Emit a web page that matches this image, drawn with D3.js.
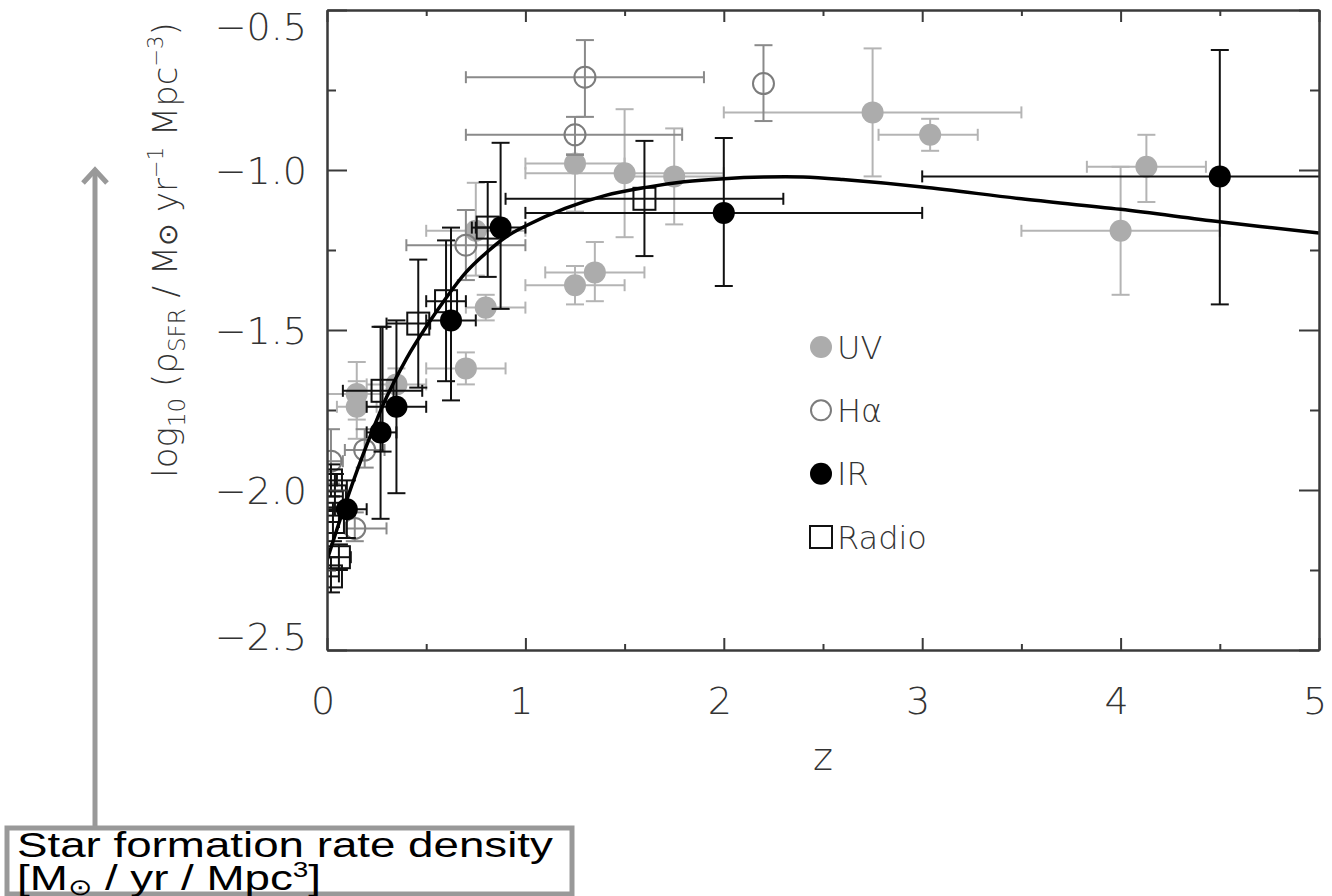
<!DOCTYPE html>
<html>
<head>
<meta charset="utf-8">
<script src="https://cdn.jsdelivr.net/npm/d3@7"></script>
<style>
  body { margin: 0; background: #fff; }
  svg { display: block; }
  .plotText { font-family: "DejaVu Sans", sans-serif; font-weight: 200; fill: #333; }
</style>
</head>
<body>
<div id="chart"></div>
<script>
// each row: [z, value, zMin, zMax, valueTop, valueBottom]
const uvPoints = [
  [0.15, -1.70, 0.00, 0.30, -1.60, -1.78],
  [0.15, -1.74, 0.05, 0.25, -1.66, -1.84],
  [0.35, -1.67, 0.20, 0.50, -1.62, -1.72],
  [0.70, -1.62, 0.50, 0.90, -1.57, -1.67],
  [0.75, -1.19, 0.50, 1.00, -1.04, -1.33],
  [0.80, -1.43, 0.70, 1.00, -1.39, -1.47],
  [1.25, -0.98, 1.00, 1.50, -0.95, -1.13],
  [1.25, -1.36, 1.00, 1.50, -1.30, -1.42],
  [1.35, -1.32, 1.10, 1.60, -1.225, -1.41],
  [1.50, -1.01, 1.00, 2.00, -0.81, -1.21],
  [1.75, -1.02, 1.50, 2.00, -0.87, -1.17],
  [2.75, -0.82, 2.00, 3.50, -0.62, -1.02],
  [3.04, -0.89, 2.78, 3.28, -0.84, -0.94],
  [4.00, -1.19, 3.50, 4.50, -0.99, -1.39],
  [4.13, -0.99, 3.83, 4.43, -0.89, -1.10]
];

const haPoints = [
  [0.02, -1.91, 0.00, 0.08, -1.81, -1.98],
  [0.19, -1.875, 0.09, 0.29, -1.81, -1.93],
  [0.14, -2.12, 0.09, 0.30, -2.07, -2.16],
  [0.70, -1.235, 0.40, 1.00, -1.125, -1.344],
  [1.25, -0.89, 0.70, 1.79, -0.834, -0.953],
  [1.30, -0.71, 0.70, 1.90, -0.594, -0.834],
  [2.20, -0.73, 2.20, 2.20, -0.61, -0.847]
];

const irPoints = [
  [0.10, -2.06, 0.00, 0.20, -1.97, -2.15],
  [0.27, -1.82, 0.20, 0.35, -1.49, -2.09],
  [0.35, -1.74, 0.20, 0.50, -1.47, -2.01],
  [0.625, -1.47, 0.50, 0.75, -1.18, -1.72],
  [0.875, -1.18, 0.75, 1.00, -0.915, -1.434],
  [2.00, -1.134, 1.00, 3.00, -0.90, -1.3625],
  [4.50, -1.02, 3.00, 6.00, -0.625, -1.42]
];

const radioPoints = [
  [0.02, -1.97, 0.00, 0.05, -1.92, -2.02],
  [0.04, -2.02, 0.00, 0.08, -1.95, -2.08],
  [0.03, -2.10, 0.00, 0.06, -2.04, -2.16],
  [0.06, -2.21, 0.00, 0.12, -2.17, -2.25],
  [0.02, -2.27, 0.00, 0.06, -2.21, -2.32],
  [0.28, -1.69, 0.08, 0.48, -1.49, -1.88],
  [0.46, -1.48, 0.30, 0.52, -1.28, -1.68],
  [0.60, -1.41, 0.50, 0.70, -1.22, -1.66],
  [0.81, -1.18, 0.73, 0.87, -1.0375, -1.334],
  [1.60, -1.09, 0.90, 2.30, -0.909, -1.269]
];

// fit curve
const curveZ = [0, 0.1, 0.2, 0.3, 0.4, 0.5, 0.6, 0.7, 0.8, 0.9, 1.0, 1.2, 1.4, 1.6, 1.8, 2.0, 2.2, 2.4, 2.6, 3.0, 3.5, 4.0, 4.5, 5.0];
const curveV = [-2.22, -2.03, -1.86, -1.71, -1.59, -1.49, -1.40, -1.32, -1.26, -1.21, -1.175, -1.12, -1.08, -1.055, -1.037, -1.027, -1.022, -1.022, -1.03, -1.053, -1.09, -1.123, -1.162, -1.197];

const xMajor = [0, 1, 2, 3, 4, 5];
const xMinor = [0.5, 1.5, 2.5, 3.5, 4.5];
const yMajor = [-0.5, -1.0, -1.5, -2.0, -2.5];
const yMinor = [-0.75, -1.25, -1.75, -2.25];

const legendItems = ["UV", "Hα", "IR", "Radio"];

const width = 1332, height = 896;
const plot = { left: 327, right: 1319, top: 10, bottom: 650 };

const svg = d3.select("#chart").append("svg")
  .attr("width", width)
  .attr("height", height);

const x = d3.scaleLinear().domain([0, 5]).range([plot.left, plot.right]);
const y = d3.scaleLinear().domain([-2.5, -0.5]).range([plot.bottom, plot.top]);

// clip for marks
svg.append("clipPath").attr("id", "clip")
  .append("rect")
  .attr("x", plot.left).attr("y", plot.top)
  .attr("width", plot.right - plot.left).attr("height", plot.bottom - plot.top);

const marks = svg.append("g").attr("clip-path", "url(#clip)");

// error bars for one series
function drawErrors(data, color, width) {
  const g = marks.append("g")
    .attr("stroke", color)
    .attr("stroke-width", width)
    .attr("fill", "none");
  data.forEach(d => {
    const cx = x(d[0]), cy = y(d[1]);
    if (d[3] > d[2]) {
      g.append("line").attr("x1", x(d[2])).attr("x2", x(d[3])).attr("y1", cy).attr("y2", cy);
      g.append("line").attr("x1", x(d[2])).attr("x2", x(d[2])).attr("y1", cy - 6).attr("y2", cy + 6);
      g.append("line").attr("x1", x(d[3])).attr("x2", x(d[3])).attr("y1", cy - 6).attr("y2", cy + 6);
    }
    g.append("line").attr("x1", cx).attr("x2", cx).attr("y1", y(d[4])).attr("y2", y(d[5]));
    g.append("line").attr("x1", cx - 9).attr("x2", cx + 9).attr("y1", y(d[4])).attr("y2", y(d[4]));
    g.append("line").attr("x1", cx - 9).attr("x2", cx + 9).attr("y1", y(d[5])).attr("y2", y(d[5]));
  });
}

drawErrors(uvPoints, "#b4b4b4", 2);
marks.append("g").selectAll("circle")
  .data(uvPoints)
  .join("circle")
  .attr("cx", d => x(d[0]))
  .attr("cy", d => y(d[1]))
  .attr("r", 11)
  .attr("fill", "#acacac");

drawErrors(haPoints, "#8a8a8a", 2);
marks.append("g").selectAll("circle")
  .data(haPoints)
  .join("circle")
  .attr("cx", d => x(d[0]))
  .attr("cy", d => y(d[1]))
  .attr("r", 10.5)
  .attr("fill", "none")
  .attr("stroke", "#7c7c7c")
  .attr("stroke-width", 2);

drawErrors(radioPoints, "#111", 2);
marks.append("g").selectAll("rect")
  .data(radioPoints)
  .join("rect")
  .attr("x", d => x(d[0]) - 11)
  .attr("y", d => y(d[1]) - 11)
  .attr("width", 22)
  .attr("height", 22)
  .attr("fill", "none")
  .attr("stroke", "#111")
  .attr("stroke-width", 2);

drawErrors(irPoints, "#111", 2);
marks.append("g").selectAll("circle")
  .data(irPoints)
  .join("circle")
  .attr("cx", d => x(d[0]))
  .attr("cy", d => y(d[1]))
  .attr("r", 11)
  .attr("fill", "#000");

// fit line
const line = d3.line()
  .x((d, i) => x(curveZ[i]))
  .y(d => y(d))
  .curve(d3.curveCatmullRom);

marks.append("path")
  .datum(curveV)
  .attr("d", line)
  .attr("fill", "none")
  .attr("stroke", "#000")
  .attr("stroke-width", 3.5);

// frame and ticks
const axisColor = "#3a3a3a";
function styleAxis(g) {
  g.selectAll("path").attr("stroke", axisColor).attr("stroke-width", 2);
  g.selectAll("line").attr("stroke", axisColor).attr("stroke-width", 2);
  g.selectAll("text").remove();
}

svg.append("g").attr("transform", `translate(0,${plot.bottom})`)
  .call(d3.axisBottom(x).tickValues(xMajor).tickSizeInner(-12).tickSizeOuter(0)).call(styleAxis);
svg.append("g").attr("transform", `translate(0,${plot.bottom})`)
  .call(d3.axisBottom(x).tickValues(xMinor).tickSizeInner(-6).tickSizeOuter(0)).call(styleAxis);
svg.append("g").attr("transform", `translate(0,${plot.top})`)
  .call(d3.axisTop(x).tickValues(xMajor).tickSizeInner(-12).tickSizeOuter(0)).call(styleAxis);
svg.append("g").attr("transform", `translate(0,${plot.top})`)
  .call(d3.axisTop(x).tickValues(xMinor).tickSizeInner(-6).tickSizeOuter(0)).call(styleAxis);
svg.append("g").attr("transform", `translate(${plot.left},0)`)
  .call(d3.axisLeft(y).tickValues(yMajor).tickSizeInner(-20).tickSizeOuter(0)).call(styleAxis);
svg.append("g").attr("transform", `translate(${plot.left},0)`)
  .call(d3.axisLeft(y).tickValues(yMinor).tickSizeInner(-9).tickSizeOuter(0)).call(styleAxis);
svg.append("g").attr("transform", `translate(${plot.right},0)`)
  .call(d3.axisRight(y).tickValues(yMajor).tickSizeInner(-20).tickSizeOuter(0)).call(styleAxis);
svg.append("g").attr("transform", `translate(${plot.right},0)`)
  .call(d3.axisRight(y).tickValues(yMinor).tickSizeInner(-9).tickSizeOuter(0)).call(styleAxis);

// tick labels
const fmt = d => (d < 0 ? "\u2212" : "") + Math.abs(d).toFixed(1);
svg.append("g").selectAll("text")
  .data(yMajor)
  .join("text")
  .attr("class", "plotText")
  .attr("x", 307)
  .attr("y", d => Math.min(Math.max(y(d), 26), 636))
  .attr("dy", "0.36em")
  .attr("text-anchor", "end")
  .attr("font-size", 38)
  .text(fmt);

svg.append("g").selectAll("text")
  .data(xMajor)
  .join("text")
  .attr("class", "plotText")
  .attr("x", d => x(d) - 4)
  .attr("y", 714)
  .attr("text-anchor", "middle")
  .attr("font-size", 38)
  .text(d => d);

svg.append("text")
  .attr("class", "plotText")
  .attr("x", 823)
  .attr("y", 770)
  .attr("text-anchor", "middle")
  .attr("font-size", 38)
  .text("z");

// y title
const yTitle = svg.append("text")
  .attr("class", "plotText")
  .attr("transform", "translate(177,250) rotate(-90)")
  .attr("text-anchor", "middle")
  .attr("font-size", 34);
yTitle.append("tspan").text("log");
yTitle.append("tspan").attr("font-size", 23).attr("dy", 8).text("10");
yTitle.append("tspan").attr("dy", -8).text(" (ρ");
yTitle.append("tspan").attr("font-size", 23).attr("dy", 8).text("SFR");
yTitle.append("tspan").attr("dy", -8).text(" / M");
yTitle.append("tspan").attr("font-size", 27).text("⊙");
yTitle.append("tspan").text(" yr");
yTitle.append("tspan").attr("font-size", 21).attr("dy", -14).text("−1");
yTitle.append("tspan").attr("dy", 14).text(" Mpc");
yTitle.append("tspan").attr("font-size", 21).attr("dy", -14).text("−3");
yTitle.append("tspan").attr("dy", 14).text(")");

// legend
const legend = svg.append("g");
const legendY = d3.scalePoint().domain(legendItems).range([347, 537]);
legend.append("circle").attr("cx", 821).attr("cy", legendY("UV")).attr("r", 11).attr("fill", "#acacac");
legend.append("circle").attr("cx", 821).attr("cy", legendY("Hα")).attr("r", 10).attr("fill", "none")
  .attr("stroke", "#7c7c7c").attr("stroke-width", 2);
legend.append("circle").attr("cx", 821).attr("cy", legendY("IR")).attr("r", 11).attr("fill", "#000");
legend.append("rect").attr("x", 810).attr("y", legendY("Radio") - 11).attr("width", 22).attr("height", 22)
  .attr("fill", "none").attr("stroke", "#111").attr("stroke-width", 2);
legend.selectAll("text")
  .data(legendItems)
  .join("text")
  .attr("class", "plotText")
  .attr("x", 837)
  .attr("y", d => legendY(d))
  .attr("dy", "0.36em")
  .attr("font-size", 32)
  .text(d => d);

// annotation arrow and box
const note = svg.append("g");
note.append("line").attr("x1", 95).attr("x2", 95).attr("y1", 828).attr("y2", 170)
  .attr("stroke", "#999").attr("stroke-width", 5);
note.append("path").attr("d", "M83,183 L95,170 L107,183")
  .attr("fill", "none").attr("stroke", "#999").attr("stroke-width", 5);
note.append("rect").attr("x", 7).attr("y", 828).attr("width", 565).attr("height", 66)
  .attr("fill", "#fff").attr("stroke", "#999").attr("stroke-width", 5);
const noteText = note.append("text")
  .attr("transform", "translate(17,0) scale(1.27,1)")
  .attr("font-family", "'Liberation Sans', Arial, sans-serif")
  .attr("font-size", 36)
  .attr("fill", "#000");
noteText.append("tspan").attr("x", 0).attr("y", 857).text("Star formation rate density");
const l2 = noteText.append("tspan").attr("x", 0).attr("y", 890);
l2.append("tspan").text("[M");
l2.append("tspan").attr("font-size", 23).attr("dy", 5).text("⊙");
l2.append("tspan").attr("dy", -5).text(" / yr / Mpc");
l2.append("tspan").attr("font-size", 22).attr("dy", -13).text("3");
l2.append("tspan").attr("dy", 13).text("]");
</script>
</body>
</html>
